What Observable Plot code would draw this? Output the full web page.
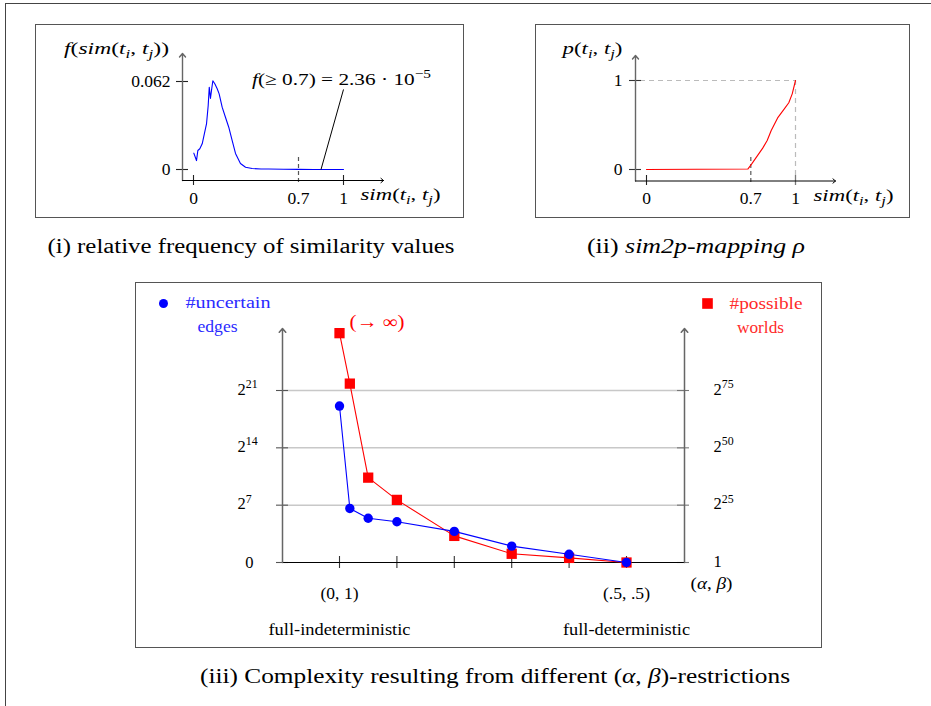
<!DOCTYPE html>
<html><head><meta charset="utf-8">
<script src="https://cdn.jsdelivr.net/npm/d3@7"></script>
<script src="https://cdn.jsdelivr.net/npm/@observablehq/plot@0.6"></script>
<style>
html,body{margin:0;padding:0;background:#fff;}
#root{position:relative;width:931px;height:706px;overflow:hidden;font-family:"Liberation Serif",serif;color:#000;background:#fff;}
.box{position:absolute;border:1.5px solid #555;box-sizing:border-box;pointer-events:none;}
.outer{position:absolute;border-top:1.5px solid #444;border-left:1.5px solid #444;pointer-events:none;}
.cap{position:absolute;white-space:nowrap;font-size:20px;line-height:1;}
</style></head><body><div id="root"></div>
<script>
// ---------------- data ----------------
// (i) relative frequency of similarity values
const freqSim = [0.002,0.02,0.029,0.042,0.058,0.073,0.087,0.098,0.105,0.113,0.12,0.129,0.142,0.158,0.171,0.191,0.213,0.235,0.258,0.28,0.313,0.347,0.391,0.45,0.5,0.6,0.7,0.8,0.9,1.0];
const freqVal = [0.0115,0.0063,0.0134,0.0146,0.0181,0.0254,0.0324,0.0451,0.058,0.050,0.0557,0.0625,0.0604,0.0569,0.0533,0.0439,0.0368,0.0298,0.0204,0.0113,0.0042,0.0016,0.0007,0.0004,0.0003,0.0002,0.0001,0.00005,0.00003,0.00002];
const xTicks1 = [0, 0.7, 1];
const xTickLabels1 = ["0", "0.7", "1"];
const yTicks1 = [0, 0.062];
const yTickLabels1 = ["0", "0.062"];
const annoFrom = [0.85, 0];
const annoTo = [1.0, 0.0564];
const annoText = "$f(≥ 0.7) = 2.36 · 10^{−5}";

// (ii) sim2p-mapping
const mapSim = [0, 0.68, 0.705, 0.78, 0.81, 0.837, 0.88, 0.92, 0.955, 0.978, 1.0];
const mapP   = [0, 0.005, 0.06, 0.24, 0.326, 0.438, 0.58, 0.67, 0.75, 0.85, 1.0];
const xTicks2 = [0, 0.7, 1];
const xTickLabels2 = ["0", "0.7", "1"];
const yTicks2 = [0, 1];
const yTickLabels2 = ["0", "1"];

// (iii) complexity vs (alpha,beta)
const alphaPos = [0, 0.018, 0.05, 0.1, 0.2, 0.3, 0.4, 0.5];
const edgesLog2 = [19.1, 6.6, 5.4, 4.97, 3.8, 2.0, 1.0, 0];
const worldsLog2 = [100, 78, 37, 27.3, 11.6, 3.8, 2.0, 0];
const xTicks3 = [0, 0.1, 0.2, 0.3, 0.4, 0.5];
const xTickLabelPos3 = [0, 0.5];
const xTickLabels3 = ["$(0, 1)", "$(.5, .5)"];
const xNotes3 = ["full-indeterministic", "full-deterministic"];
const leftTicks = [0, 7, 14, 21];
const leftTickLabels = ["0", "$2^{7}", "$2^{14}", "$2^{21}"];
const rightTicks = [0, 25, 50, 75];
const rightTickLabels = ["1", "$2^{25}", "$2^{50}", "$2^{75}"];
const rightMax = 75, leftMax = 21;

// rendered widths of the LaTeX-set labels (px), used to stretch the substitute font
const textWidths = {
  "$f(sim(t_{i}, t_{j}))": 105,
  "$sim(t_{i}, t_{j})": 80,
  [annoText]: 179,
  "$p(t_{i}, t_{j})": 60,
  "#uncertain": 85, "edges": 40, "#possible": 73, "worlds": 47,
  "full-indeterministic": 142, "full-deterministic": 127,
  "$(0, 1)": 38, "$(.5, .5)": 47, "$(α, β)": 42, "(→ ∞)": 55
};

// ---------------- helpers ----------------
const root = document.getElementById("root");
const FONT = '"Liberation Serif", "DejaVu Serif", serif';
function addBox(l, t, w, h) {
  const d = document.createElement("div"); d.className = "box";
  d.style.left = (l - 0.75) + "px"; d.style.top = (t - 0.75) + "px";
  d.style.width = (w + 1.5) + "px"; d.style.height = (h + 1.5) + "px";
  root.appendChild(d);
}
function placeSvg(svg, l, t) {
  svg.style.position = "absolute"; svg.style.left = l + "px"; svg.style.top = t + "px";
  root.appendChild(svg);
  texify(svg);
}
function parseTex(s) {
  const out = [];
  const push = (text, italic, shift) => {
    const last = out[out.length - 1];
    if (last && last.italic === italic && last.shift === shift) last.text += text;
    else out.push({text, italic, shift});
  };
  const run = (str, shift) => {
    let i = 0;
    while (i < str.length) {
      const c = str[i];
      if (c === "_" || c === "^") {
        const sh = c === "_" ? "sub" : "sup";
        let content;
        if (str[i + 1] === "{") { const j = str.indexOf("}", i + 2); content = str.slice(i + 2, j); i = j + 1; }
        else { content = str[i + 1]; i += 2; }
        run(content, sh);
        continue;
      }
      push(c, /[A-Za-zα-ω]/.test(c), shift);
      i++;
    }
  };
  run(s, null);
  return out;
}
function texify(svg) {
  const ns = "http://www.w3.org/2000/svg";
  svg.querySelectorAll("text").forEach(t => {
    const s = t.textContent;
    if (s.startsWith("$")) {
      const fs = parseFloat(getComputedStyle(t).fontSize);
      const segs = parseTex(s.slice(1));
      t.textContent = "";
      let cur = 0;
      for (const seg of segs) {
        const ts = document.createElementNS(ns, "tspan");
        const target = seg.shift === "sub" ? 0.22 * fs : seg.shift === "sup" ? -0.42 * fs : 0;
        if (target !== cur) { ts.setAttribute("dy", (target - cur).toFixed(2)); cur = target; }
        if (seg.shift) ts.setAttribute("font-size", (0.72 * fs).toFixed(2));
        if (seg.italic) ts.setAttribute("font-style", "italic");
        ts.textContent = seg.text;
        t.appendChild(ts);
      }
    }
    if (textWidths[s] != null) {
      t.setAttribute("textLength", textWidths[s]);
      t.setAttribute("lengthAdjust", "spacingAndGlyphs");
    }
  });
}
const one = [0];
const K = v => () => v;
const MID = {lineAnchor: "middle"};

// outer frame
const outer = document.createElement("div"); outer.className = "outer";
outer.style.left = "5px"; outer.style.top = "3px"; outer.style.width = "940px"; outer.style.height = "720px";
root.appendChild(outer);

// ---------------- panel (i) ----------------
{
  const W = 427, H = 192, L = 36, T = 25;
  const X = d3.scaleLinear([0, 1], [157, 307]);
  const Y = d3.scaleLinear([0, 0.062], [144, 56]);
  const ax = X.invert(146), ay = Y.invert(155);
  const freq = freqSim.map((s, i) => ({s, v: freqVal[i]}));
  const svg = Plot.plot({
    width: W, height: H, margin: 0,
    x: {domain: X.domain(), range: X.range(), axis: null},
    y: {domain: Y.domain(), range: Y.range(), axis: null},
    style: {background: "transparent", fontFamily: FONT, overflow: "visible"},
    marks: [
      Plot.ruleX([0.7], {x: d => d, y1: K(Y.invert(132)), y2: K(Y.invert(160)), stroke: "#555", strokeWidth: 1.2, strokeDasharray: "4,3"}),
      Plot.ruleX([0, 1], {x: d => d, y1: K(Y.invert(150)), y2: K(Y.invert(160)), stroke: "#222", strokeWidth: 1.1}),
      Plot.ruleY(yTicks1, {y: d => d, x1: K(X.invert(140)), x2: K(X.invert(152)), stroke: "#222", strokeWidth: 1.1}),
      Plot.arrow(one, {x1: K(ax), y1: K(ay), x2: K(ax), y2: K(Y.invert(28)), stroke: "#666", strokeWidth: 1.4, headLength: 5, headAngle: 80}),
      Plot.arrow(one, {x1: K(ax), y1: K(ay), x2: K(X.invert(347)), y2: K(ay), stroke: "#000", strokeWidth: 1, headLength: 5, headAngle: 80}),
      Plot.line(freq, {x: "s", y: "v", stroke: "#0000ff", strokeWidth: 1.1}),
      Plot.link(one, {x1: K(annoFrom[0]), y1: K(annoFrom[1]), x2: K(annoTo[0]), y2: K(annoTo[1]), stroke: "#000", strokeWidth: 1}),
      Plot.text([annoText], {x: K(annoTo[0]), y: K(annoTo[1]), text: d => d, dx: -2, dy: -4, lineAnchor: "bottom", textAnchor: "middle", fontSize: 17.5}),
      Plot.text(yTicks1, {y: d => d, text: (d, i) => yTickLabels1[i], frameAnchor: "left", dx: 134, textAnchor: "end", fontSize: 17.5}),
      Plot.text(xTicks1, {...MID, x: d => d, text: (d, i) => xTickLabels1[i], frameAnchor: "top", dy: 173, fontSize: 17.5}),
      Plot.text(["$f(sim(t_{i}, t_{j}))"], {...MID, text: d => d, frameAnchor: "top-left", dx: 80, dy: 23, textAnchor: "middle", fontSize: 17.5}),
      Plot.text(["$sim(t_{i}, t_{j})"], {...MID, text: d => d, frameAnchor: "top-left", dx: 324, dy: 169, textAnchor: "start", fontSize: 17.5})
    ]
  });
  placeSvg(svg, L, T);
  addBox(L, T, W, H);
}

// ---------------- panel (ii) ----------------
{
  const W = 373, H = 192, L = 536, T = 25;
  const X = d3.scaleLinear([0, 1], [110, 259]);
  const Y = d3.scaleLinear([0, 1], [144, 55]);
  const ax = X.invert(99), ay = Y.invert(155.5);
  const map = mapSim.map((s, i) => ({s, p: mapP[i]}));
  const svg = Plot.plot({
    width: W, height: H, margin: 0,
    x: {domain: X.domain(), range: X.range(), axis: null},
    y: {domain: Y.domain(), range: Y.range(), axis: null},
    style: {background: "transparent", fontFamily: FONT, overflow: "visible"},
    marks: [
      Plot.ruleY([1], {y: d => d, x1: K(X.invert(104)), x2: K(1), stroke: "#bbb", strokeWidth: 1.2, strokeDasharray: "5,4"}),
      Plot.ruleX([1], {x: d => d, y1: K(Y.invert(150)), y2: K(1), stroke: "#bbb", strokeWidth: 1.2, strokeDasharray: "5,4"}),
      Plot.ruleX([0.7], {x: d => d, y1: K(Y.invert(132)), y2: K(Y.invert(160)), stroke: "#666", strokeWidth: 1.3, strokeDasharray: "4,3"}),
      Plot.ruleX([0], {x: d => d, y1: K(Y.invert(150)), y2: K(Y.invert(160)), stroke: "#222", strokeWidth: 1.1}),
      Plot.ruleX([1], {x: d => d, y1: K(Y.invert(150)), y2: K(Y.invert(160)), stroke: "#777", strokeWidth: 1.3}),
      Plot.ruleY(yTicks2, {y: d => d, x1: K(X.invert(93)), x2: K(X.invert(105)), stroke: "#333", strokeWidth: 1.1}),
      Plot.arrow(one, {x1: K(ax), y1: K(ay), x2: K(ax), y2: K(Y.invert(30)), stroke: "#666", strokeWidth: 1.4, headLength: 5, headAngle: 80}),
      Plot.arrow(one, {x1: K(ax), y1: K(ay), x2: K(X.invert(299)), y2: K(ay), stroke: "#000", strokeWidth: 1, headLength: 5, headAngle: 80}),
      Plot.line(map, {x: "s", y: "p", stroke: "#ff0000", strokeWidth: 1.1}),
      Plot.text(yTicks2, {y: d => d, text: (d, i) => yTickLabels2[i], frameAnchor: "left", dx: 86, textAnchor: "end", fontSize: 17.5}),
      Plot.text(xTicks2, {...MID, x: d => d, text: (d, i) => xTickLabels2[i], frameAnchor: "top", dy: 173, fontSize: 17.5}),
      Plot.text(["$p(t_{i}, t_{j})"], {...MID, text: d => d, frameAnchor: "top-left", dx: 56, dy: 23, textAnchor: "middle", fontSize: 17.5}),
      Plot.text(["$sim(t_{i}, t_{j})"], {...MID, text: d => d, frameAnchor: "top-left", dx: 277, dy: 170, textAnchor: "start", fontSize: 17.5})
    ]
  });
  placeSvg(svg, L, T);
  addBox(L, T, W, H);
}

// ---------------- panel (iii) ----------------
{
  const W = 685, H = 364, L = 136, T = 283;
  const X = d3.scaleLinear([0, 0.5], [203, 490]);
  const Y = d3.scaleLinear([0, leftMax], [279, 107]);
  const r2l = leftMax / rightMax;
  const axL = X.invert(146), axR = X.invert(548), ay = 0, top = Y.invert(45);
  const edges = alphaPos.map((a, i) => ({a, v: edgesLog2[i]}));
  const worlds = alphaPos.map((a, i) => ({a, v: worldsLog2[i] * r2l}));
  const svg = Plot.plot({
    width: W, height: H, margin: 0,
    x: {domain: X.domain(), range: X.range(), axis: null},
    y: {domain: Y.domain(), range: Y.range(), axis: null},
    style: {background: "transparent", fontFamily: FONT, overflow: "visible"},
    marks: [
      Plot.ruleY(leftTicks.slice(1), {y: d => d, x1: K(axL), x2: K(axR), stroke: "#c8c8c8", strokeWidth: 1.5}),
      Plot.ruleY(leftTicks, {y: d => d, x1: K(X.invert(140)), x2: K(X.invert(152)), stroke: "#555", strokeWidth: 1.1}),
      Plot.ruleY(rightTicks, {y: d => d * r2l, x1: K(X.invert(541)), x2: K(X.invert(553)), stroke: "#777", strokeWidth: 1.1}),
      Plot.ruleX(xTicks3, {x: d => d, y1: K(Y.invert(273)), y2: K(Y.invert(285)), stroke: "#333", strokeWidth: 1.1}),
      Plot.ruleY([0], {y: d => d, x1: K(axL), x2: K(axR), stroke: "#000", strokeWidth: 1.2}),
      Plot.arrow(one, {x1: K(axL), y1: K(ay), x2: K(axL), y2: K(top), stroke: "#666", strokeWidth: 1.5, headLength: 5, headAngle: 80}),
      Plot.arrow(one, {x1: K(axR), y1: K(ay), x2: K(axR), y2: K(top), stroke: "#666", strokeWidth: 1.5, headLength: 5, headAngle: 80}),
      Plot.line(worlds, {x: "a", y: "v", stroke: "#ff0000", strokeWidth: 1.1}),
      Plot.dot(worlds, {x: "a", y: "v", symbol: "square", r: 5.8, fill: "#ff0000"}),
      Plot.line(edges, {x: "a", y: "v", stroke: "#0000ff", strokeWidth: 1.1}),
      Plot.dot(edges, {x: "a", y: "v", r: 4.7, fill: "#0000ff"}),
      Plot.text(["(→ ∞)"], {x: K(alphaPos[0]), y: K(worldsLog2[0] * r2l), text: d => d, dx: 10, dy: -11, textAnchor: "start", fill: "#ff0000", fontSize: 18.5}),
      Plot.text(leftTicks.slice(1), {y: d => d, text: (d, i) => leftTickLabels[i + 1], frameAnchor: "left", dx: 101, dy: -1, textAnchor: "start", fontSize: 16.5}),
      Plot.text([0], {y: d => d, text: () => leftTickLabels[0], frameAnchor: "left", dx: 117, textAnchor: "end", fontSize: 16.5}),
      Plot.text(rightTicks, {y: d => d * r2l, text: (d, i) => rightTickLabels[i], frameAnchor: "left", dx: 577, dy: -1, textAnchor: "start", fontSize: 16.5}),
      Plot.text(xTickLabelPos3, {...MID, x: d => d, text: (d, i) => xTickLabels3[i], frameAnchor: "top", dy: 310, fontSize: 16}),
      Plot.text(xTickLabelPos3, {...MID, x: d => d, text: (d, i) => xNotes3[i], frameAnchor: "top", dy: 346, fontSize: 16}),
      Plot.text(["$(α, β)"], {...MID, text: d => d, frameAnchor: "top-left", dx: 575, dy: 300, textAnchor: "middle", fontSize: 16}),
      // legend
      Plot.dot(one, {x: K(X.invert(27)), y: K(Y.invert(20)), r: 4.5, fill: "#0000ff"}),
      Plot.text(["#uncertain"], {...MID, text: d => d, frameAnchor: "top-left", dx: 49, dy: 19, textAnchor: "start", fill: "#2a2aff", fontSize: 16}),
      Plot.text(["edges"], {...MID, text: d => d, frameAnchor: "top-left", dx: 81, dy: 43, textAnchor: "middle", fill: "#2a2aff", fontSize: 16}),
      Plot.dot(one, {x: K(X.invert(571)), y: K(Y.invert(20)), symbol: "square", r: 6, fill: "#ff0000"}),
      Plot.text(["#possible"], {...MID, text: d => d, frameAnchor: "top-left", dx: 593, dy: 20, textAnchor: "start", fill: "#ff2a2a", fontSize: 16}),
      Plot.text(["worlds"], {...MID, text: d => d, frameAnchor: "top-left", dx: 624, dy: 44, textAnchor: "middle", fill: "#ff2a2a", fontSize: 16})
    ]
  });
  placeSvg(svg, L, T);
  addBox(L, T, W, H);
}

// ---------------- captions ----------------
function caption(html, cx, cy, targetW) {
  const d = document.createElement("div"); d.className = "cap";
  d.style.left = cx + "px"; d.style.top = cy + "px"; d.innerHTML = html;
  root.appendChild(d);
  const w = d.getBoundingClientRect().width;
  const s = targetW / w;
  d.style.transformOrigin = "0 0";
  d.style.transform = `translate(${-targetW / 2}px, -50%) scaleX(${s})`;
}
caption("(i) relative frequency of similarity values", 251, 246, 407);
caption("(ii) <i>sim2p-mapping ρ</i>", 696, 246, 218);
caption("(iii) Complexity resulting from different (<i>α</i>, <i>β</i>)-restrictions", 495, 676, 590);
</script></body></html>
